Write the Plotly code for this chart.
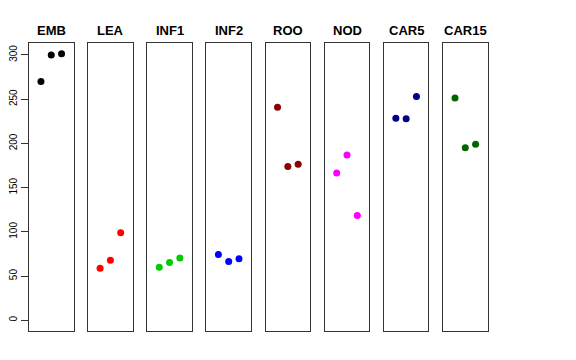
import plotly.graph_objects as go

panels = ["EMB", "LEA", "INF1", "INF2", "ROO", "NOD", "CAR5", "CAR15"]
colors = ["#000000", "#FF0000", "#00CD00", "#0000FF", "#8B0000", "#FF00FF", "#00008B", "#006400"]
emb = [270, 300, 301.5]
lea = [59, 68, 99]
inf1 = [60, 65.5, 70.5]
inf2 = [74.5, 66.5, 69.5]
roo = [241, 174, 176.5]
nod = [166.5, 187, 118.5]
car5 = [228.5, 228, 253]
car15 = [251.5, 195, 199]
values = [emb, lea, inf1, inf2, roo, nod, car5, car15]
reps = [1, 2, 3]
yticks = [0, 50, 100, 150, 200, 250, 300]

# page body has an 8px margin, so the figure is drawn 8px in from the window corner
OFF = 8
W, H = 576 - OFF, 360 - OFF
left0, step, pw = 29.0 - OFF, 59.15, 44.5
ytop, ybot = 43.0 - OFF, 331.0 - OFF
title_y = 30 - OFF
yrange = [-12.06, 313.56]

fig = go.Figure()
layout = dict(
    width=W, height=H, margin=dict(l=0, r=0, t=0, b=0, autoexpand=False),
    paper_bgcolor="white", plot_bgcolor="white", showlegend=False,
    font=dict(family="Liberation Sans, Arial, sans-serif", color="black"),
)
annotations = []
for i, (name, col, vals) in enumerate(zip(panels, colors, values)):
    k = "" if i == 0 else str(i + 1)
    fig.add_trace(go.Scatter(x=reps, y=vals, mode="markers",
                             marker=dict(color=col, size=7),
                             xaxis="x" + k, yaxis="y" + k, hoverinfo="y"))
    x0 = (left0 + i * step) / W
    x1 = (left0 + i * step + pw) / W
    layout["xaxis" + k] = dict(domain=[x0, x1], range=[-0.16, 4.16], anchor="y" + k,
                               showgrid=False, zeroline=False, showticklabels=False,
                               ticks="", showline=True, mirror=True,
                               linecolor="#333333", linewidth=1)
    yax = dict(domain=[(H - ybot) / H, (H - ytop) / H], range=yrange, anchor="x" + k,
               showgrid=False, zeroline=False, showline=True, mirror=True,
               linecolor="#333333", linewidth=1)
    if i == 0:
        yax.update(tickmode="array", tickvals=yticks, ticks="outside", ticklen=7,
                   tickcolor="#333333", tickangle=-90,
                   tickfont=dict(size=10, color="black"))
    else:
        yax.update(showticklabels=False, ticks="")
    layout["yaxis" + k] = yax
    annotations.append(dict(text="<b>" + name + "</b>", x=(x0 + x1) / 2, y=(H - title_y) / H,
                            xref="paper", yref="paper", showarrow=False,
                            font=dict(size=13, color="black"),
                            xanchor="center", yanchor="middle"))
layout["annotations"] = annotations
fig.update_layout(**layout)
fig.write_html("out.html")
